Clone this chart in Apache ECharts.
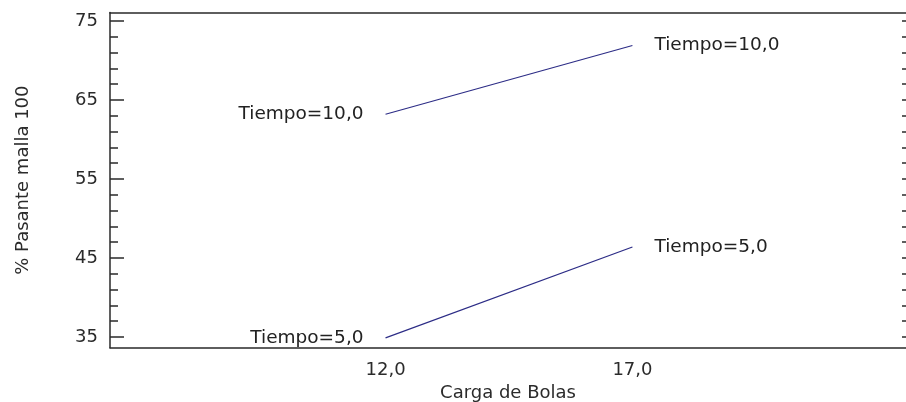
<!DOCTYPE html>
<html>
<head>
<meta charset="utf-8">
<script src="https://cdn.jsdelivr.net/npm/echarts@6/dist/echarts.min.js"></script>
<style>
  html, body { margin: 0; padding: 0; background: #ffffff; overflow: hidden; }
  #chart { width: 906px; height: 402px; }
</style>
</head>
<body>
<div id="chart"></div>
<script>
// Interaction plot: % Pasante malla 100 vs Carga de Bolas, one line per Tiempo level
const cargaBolas = [12, 17];
const tiempo10 = [63.2, 71.9];
const tiempo5 = [34.9, 46.4];
const seriesNames = ['Tiempo=10,0', 'Tiempo=5,0'];
const xTickLabels = [12, 17];
const yMajorTicks = [35, 45, 55, 65, 75];
const yMinorTicks = [37, 39, 41, 43, 47, 49, 51, 53, 57, 59, 61, 63, 67, 69, 71, 73];

const FONT = 'DejaVu Sans';
const TEXT = '#2b2b2b';
const AXIS = '#2a2a2a';
const LINE = '#2c2c86';

const Y_MIN = 33.65, Y_MAX = 76.08;
const X_MIN = 6.42, X_MAX = 22.54;
const PLOT_TOP = 12.5, PLOT_BOTTOM = 54.3;

function buildSeries(name, values) {
  return {
    type: 'line',
    name: name,
    xAxisIndex: 0,
    yAxisIndex: 0,
    symbol: 'circle',
    symbolSize: 0,
    showSymbol: true,
    silent: true,
    itemStyle: { color: LINE },
    lineStyle: { color: LINE, width: 1.2 },
    data: cargaBolas.map((x, i) => ({
      value: [x, values[i]],
      label: {
        show: true,
        position: i === 0 ? 'left' : 'right',
        distance: 22,
        formatter: name,
        color: '#222222',
        fontFamily: FONT,
        fontSize: 18.5
      }
    }))
  };
}

// Tick-only axis (no line, no labels)
function tickAxis(gridIndex, ticks, len, offset) {
  return {
    type: 'value',
    gridIndex: gridIndex,
    position: 'left',
    offset: offset,
    min: Y_MIN,
    max: Y_MAX,
    splitLine: { show: false },
    axisLine: { show: false },
    axisTick: { show: true, inside: true, length: len, customValues: ticks,
                lineStyle: { color: AXIS, width: 1.5 } },
    axisLabel: { show: false }
  };
}

const leftMajor = {
  type: 'value',
  gridIndex: 0,
  position: 'left',
  min: Y_MIN,
  max: Y_MAX,
  name: '% Pasante malla 100',
  nameLocation: 'middle',
  nameGap: 78,
  nameTextStyle: { color: TEXT, fontFamily: FONT, fontSize: 18 },
  splitLine: { show: false },
  axisLine: { show: true, lineStyle: { color: AXIS, width: 1.5 } },
  axisTick: { show: true, inside: true, length: 14, customValues: yMajorTicks,
              lineStyle: { color: AXIS, width: 1.5 } },
  axisLabel: { show: true, customValues: yMajorTicks, margin: 12, color: TEXT,
               fontFamily: FONT, fontSize: 18 }
};

const option = {
  backgroundColor: '#ffffff',
  animation: false,
  grid: [
    // main plot area
    { left: 110, top: PLOT_TOP, bottom: PLOT_BOTTOM, right: 0, containLabel: false,
      outerBoundsMode: 'none' },
    // narrow strip along the right edge carrying the right-hand ticks
    { left: 902, top: PLOT_TOP, bottom: PLOT_BOTTOM, right: 0, containLabel: false,
      outerBoundsMode: 'none' }
  ],
  xAxis: [
    {
      type: 'value',
      gridIndex: 0,
      position: 'bottom',
      min: X_MIN,
      max: X_MAX,
      name: 'Carga de Bolas',
      nameLocation: 'middle',
      nameGap: 26,
      nameTextStyle: { color: TEXT, fontFamily: FONT, fontSize: 18 },
      splitLine: { show: false },
      axisLine: { show: true, lineStyle: { color: AXIS, width: 1.5 } },
      axisTick: { show: false },
      axisLabel: {
        show: true,
        customValues: xTickLabels,
        margin: 14,
        color: TEXT,
        fontFamily: FONT,
        fontSize: 18,
        formatter: v => v.toFixed(1).replace('.', ',')
      }
    },
    {
      type: 'value',
      gridIndex: 0,
      position: 'top',
      min: X_MIN,
      max: X_MAX,
      splitLine: { show: false },
      axisLine: { show: true, lineStyle: { color: AXIS, width: 1.5 } },
      axisTick: { show: false },
      axisLabel: { show: false }
    },
    {
      type: 'value',
      gridIndex: 1,
      min: 0,
      max: 1,
      show: false
    }
  ],
  yAxis: [
    leftMajor,
    tickAxis(0, yMinorTicks, 8, 0),
    tickAxis(1, yMajorTicks, 10, 6),
    tickAxis(1, yMinorTicks, 4, 0)
  ],
  series: [
    buildSeries(seriesNames[0], tiempo10),
    buildSeries(seriesNames[1], tiempo5)
  ]
};

const chart = echarts.init(document.getElementById('chart'), null, { renderer: 'canvas' });
chart.setOption(option);
</script>
</body>
</html>
